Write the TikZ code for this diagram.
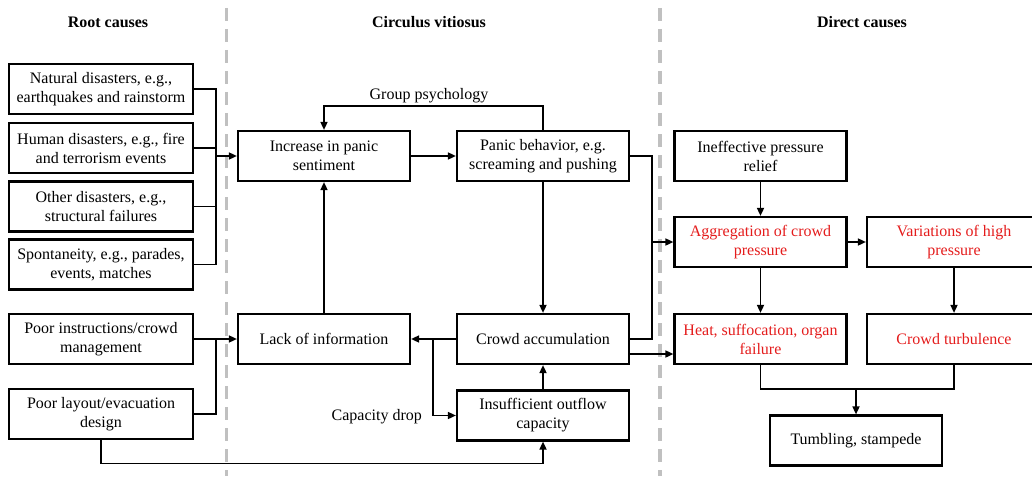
\documentclass[tikz,border=0pt]{standalone}
\usepackage{fontspec}
\setmainfont{Liberation Serif}
\usetikzlibrary{arrows.meta, positioning}
\definecolor{causered}{RGB}{228,28,28}
\definecolor{sepgray}{RGB}{192,192,192}

\begin{document}
\begin{tikzpicture}[x=1pt, y=-1pt, line width=1.6pt,
    >={Triangle[length=8pt, width=7pt]},
    every node/.style={font=\fontsize{16}{19}\selectfont},
    box/.style={draw, line width=2.2pt, minimum height=50pt, align=center, inner sep=2pt},
    rootbox/.style={box, minimum width=184pt},
    loopbox/.style={box, minimum width=172pt},
    hot/.style={text=causered},
    head/.style={font=\fontsize{16}{19}\selectfont\bfseries},
    sep/.style={draw=sepgray, line width=3.5pt, dash pattern=on 13pt off 8pt, dash phase=13pt}]
			\clip (0,0) rectangle (1032,476);

			% Draw the column separators
			\draw[sep] (226.5,0) -- (226.5,476);
			\draw[sep] (660,0) -- (660,476);

			\node[head] (RootHead) at (108,22) {Root causes};
			\node[head] (LoopHead) at (429,22) {Circulus vitiosus};
			\node[head] (DirectHead) at (862,22) {Direct causes};

			% Root causes
			\node[rootbox] (Natural) at (101,89) {Natural disasters, e.g.,\\earthquakes and rainstorm};
			\node[rootbox] (Human) at (101,148) {Human disasters, e.g., fire\\and terrorism events};
			\node[rootbox] (Other) at (101,206.5) {Other disasters, e.g.,\\structural failures};
			\node[rootbox] (Spont) at (101,264.5) {Spontaneity, e.g., parades,\\events, matches};
			\node[rootbox] (Instr) at (101,339) {Poor instructions/crowd\\management};
			\node[rootbox] (Layout) at (101,414) {Poor layout/evacuation\\design};

			% Circulus vitiosus
			\node[loopbox] (Increase) at (324,156) {Increase in panic\\sentiment};
			\node[loopbox] (Panic) at (543,156) {Panic behavior, e.g.\\screaming and pushing};
			\node[loopbox] (Lack) at (324,339) {Lack of information};
			\node[loopbox] (Accum) at (543,339) {Crowd accumulation};
			\node[loopbox] (Outflow) at (543,415.5) {Insufficient outflow\\capacity};

			% Direct causes
			\node[loopbox] (Relief) at (760.5,156) {Ineffective pressure\\relief};
			\node[loopbox, hot] (Aggr) at (760.5,242) {Aggregation of crowd\\pressure};
			\node[loopbox, hot, minimum width=174pt] (Variation) at (954,242) {Variations of high\\pressure};
			\node[loopbox, hot] (Heat) at (760.5,339) {Heat, suffocation, organ\\failure};
			\node[loopbox, hot, minimum width=174pt] (Turb) at (954,339) {Crowd turbulence};
			\node[loopbox] (Tumble) at (856,440.5) {Tumbling, stampede};

			% Draw the bus lines into the loop
			\coordinate (BusA) at (216,156);
			\coordinate (BusB) at (216,339);
			\draw (Natural.east) -| (BusA);
			\draw (Human.east) -| (BusA);
			\draw (Other.east) -| (BusA);
			\draw (Spont.east) -| (BusA);
			\draw[->] (BusA) -- (Increase.west);
			\draw[->] (Instr.east) -- (Lack.west);
			\draw (Layout.east) -| (BusB);
			\coordinate (Floor) at (0,463.5);
			\draw[->] (Layout.south) |- (Floor -| Outflow.south) -- (Outflow.south);

			% Draw the vicious circle
			\draw[->] (Increase) -- (Panic);
			\draw[->] (Panic.north) -- ++(0,-24) -| (Increase.north);
			\node (Group) at (429,96) {Group psychology};
			\draw[->] (Panic.south) -- (Accum.north);
			\draw[->] (Lack.north) -- (Increase.south);
			\draw[->] (Accum.west) -- (Lack.east);
			\coordinate (Split) at (433,339);
			\draw[->] (Split) |- (Outflow.west);
			\node[anchor=east] (Drop) at (426,417) {Capacity drop};
			\draw[->] (Outflow.north) -- (Accum.south);

			% Draw the lines into the direct causes
			\coordinate (BusC) at (652,242);
			\draw (Panic.east) -| (BusC);
			\draw (Accum.east) -| (BusC);
			\draw[->] (BusC) -- (Aggr.west);
			\draw[->] ([yshift=-15pt]Accum.east) -- ([yshift=-15pt]Heat.west);

			\draw[->] (Relief) -- (Aggr);
			\draw[->] (Aggr) -- (Variation);
			\draw[->] (Aggr) -- (Heat);
			\draw[->] (Variation) -- (Turb);
			\coordinate (Join) at (856,389);
			\draw (Heat.south) |- (Join) -| (Turb.south);
			\draw[->] (Join) -- (Tumble.north);

		\end{tikzpicture}
\end{document}
